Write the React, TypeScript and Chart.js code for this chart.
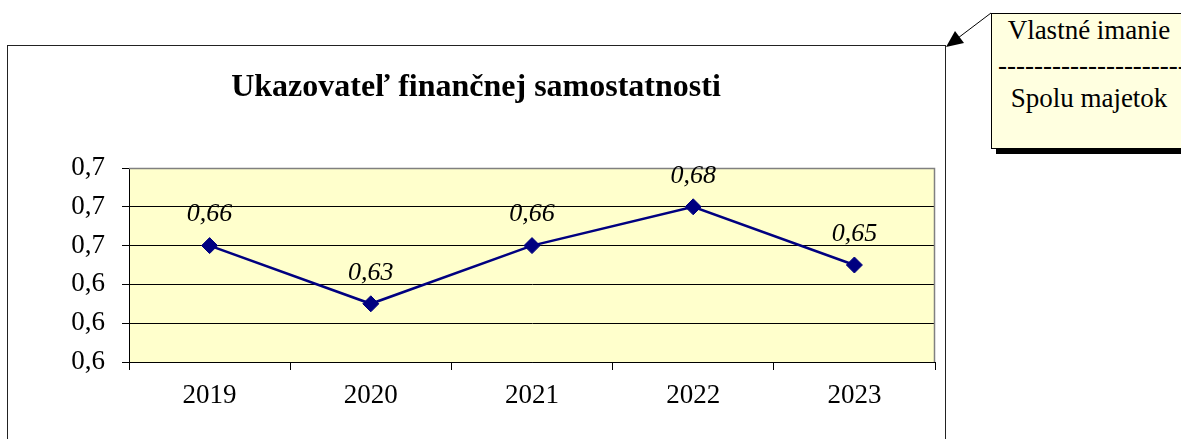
import React, { useEffect, useRef } from "react";
import { Chart, registerables } from "chart.js";

Chart.register(...registerables);

const categories = ["2019", "2020", "2021", "2022", "2023"];
const values = [0.66, 0.63, 0.66, 0.68, 0.65];
const valueLabels = ["0,66", "0,63", "0,66", "0,68", "0,65"];
const yMin = 0.6;
const yMax = 0.7;
const yStep = 0.02;
const chartTitle = "Ukazovateľ finančnej samostatnosti";
const calloutTop = "Vlastné imanie";
const calloutDashes = "----------------------";
const calloutBottom = "Spolu majetok";

const FONT = "'Liberation Serif', 'Times New Roman', serif";

const plotBgPlugin = {
  id: "plotBg",
  beforeDraw(chart: any) {
    const { ctx, chartArea } = chart;
    ctx.save();
    ctx.fillStyle = "#FFFFCC";
    ctx.fillRect(chartArea.left, chartArea.top, chartArea.right - chartArea.left, chartArea.bottom - chartArea.top);
    ctx.restore();
  },
  beforeDatasetsDraw(chart: any) {
    const { ctx, chartArea } = chart;
    ctx.save();
    ctx.strokeStyle = "#808080";
    ctx.lineWidth = 1.5;
    ctx.beginPath();
    ctx.moveTo(chartArea.left, Math.round(chartArea.top) + 0.5);
    ctx.lineTo(Math.round(chartArea.right) - 0.5, Math.round(chartArea.top) + 0.5);
    ctx.lineTo(Math.round(chartArea.right) - 0.5, chartArea.bottom);
    ctx.stroke();
    ctx.restore();
  },
};

const titlePlugin = {
  id: "centeredTitle",
  afterDraw(chart: any) {
    const { ctx } = chart;
    ctx.save();
    ctx.font = `bold 32px ${FONT}`;
    ctx.fillStyle = "#000";
    ctx.textAlign = "center";
    ctx.textBaseline = "alphabetic";
    ctx.fillText(chartTitle, chart.width / 2, 50);
    ctx.restore();
  },
};

const valueLabelPlugin = {
  id: "valueLabels",
  afterDatasetsDraw(chart: any) {
    const { ctx } = chart;
    const meta = chart.getDatasetMeta(0);
    ctx.save();
    ctx.font = `italic 26px ${FONT}`;
    ctx.fillStyle = "#000";
    ctx.textAlign = "center";
    ctx.textBaseline = "middle";
    meta.data.forEach((pt: any, i: number) => {
      ctx.fillText(valueLabels[i], pt.x, pt.y - 31);
    });
    ctx.restore();
  },
};

export default function App() {
  const canvasRef = useRef<HTMLCanvasElement | null>(null);

  useEffect(() => {
    if (!canvasRef.current) return;
    const chart = new Chart(canvasRef.current, {
      type: "line",
      data: {
        labels: categories,
        datasets: [
          {
            data: values,
            borderColor: "#000080",
            backgroundColor: "#000080",
            borderWidth: 2.5,
            pointStyle: "rectRot",
            pointRadius: 8,
            pointBackgroundColor: "#000080",
            pointBorderColor: "#000080",
            pointBorderWidth: 1,
            tension: 0,
          },
        ],
      },
      options: {
        animation: false,
        responsive: false,
        maintainAspectRatio: false,
        layout: { padding: { left: 21, right: 6, top: 122, bottom: 17 } },
        plugins: {
          legend: { display: false },
          tooltip: { enabled: false },
          title: { display: false },
        },
        scales: {
          x: {
            offset: true,
            grid: { offset: true, drawOnChartArea: false, color: "#000", tickLength: 8 },
            border: { color: "#000" },
            ticks: { color: "#000", font: { family: FONT, size: 27 }, padding: 10, maxRotation: 0 },
            afterFit: (s: any) => {
              s.height = 60;
            },
          },
          y: {
            min: yMin,
            max: yMax,
            grid: { color: "#000", tickLength: 7 },
            border: { color: "#000" },
            ticks: {
              stepSize: yStep,
              color: "#000",
              font: { family: FONT, size: 27 },
              padding: 17,
              callback: (v: any) => Number(v).toFixed(1).replace(".", ","),
            },
            afterFit: (s: any) => {
              s.width = 100;
            },
          },
        },
      },
      plugins: [plotBgPlugin, valueLabelPlugin, titlePlugin],
    } as any);
    return () => chart.destroy();
  }, []);

  return (
    <div style={{ position: "fixed", left: 0, top: 0, width: 1181, height: 439, overflow: "hidden", background: "#fff" }}>
      <div
        style={{
          position: "absolute",
          left: 7,
          top: 45,
          width: 937,
          height: 420,
          border: "1px solid #222",
          background: "#fff",
        }}
      >
        <canvas ref={canvasRef} width={936} height={393} style={{ display: "block", width: 936, height: 393 }} />
      </div>
      <div
        style={{
          position: "absolute",
          left: 991,
          top: 13,
          width: 194,
          height: 134,
          background: "#FFFFE0",
          border: "1px solid #000",
          boxShadow: "5px 5px 0 #000",
          fontFamily: FONT,
          fontSize: 27,
          color: "#000",
          textAlign: "center",
        }}
      >
        <div style={{ position: "absolute", left: 0, right: 0, top: 0, lineHeight: "32px", whiteSpace: "nowrap" }}>{calloutTop}</div>
        <div style={{ position: "absolute", left: 6, right: -10, top: 35, lineHeight: "32px", whiteSpace: "nowrap", overflow: "hidden", textAlign: "left" }}>{calloutDashes}</div>
        <div style={{ position: "absolute", left: 0, right: 0, top: 68, lineHeight: "32px", whiteSpace: "nowrap" }}>{calloutBottom}</div>
      </div>
      <svg width={1181} height={439} style={{ position: "absolute", left: 0, top: 0, pointerEvents: "none" }}>
        <line x1={991} y1={13} x2={958} y2={38} stroke="#000" strokeWidth={1} />
        <polygon points="946,47 955,31 964,43" fill="#000" />
      </svg>
    </div>
  );
}
